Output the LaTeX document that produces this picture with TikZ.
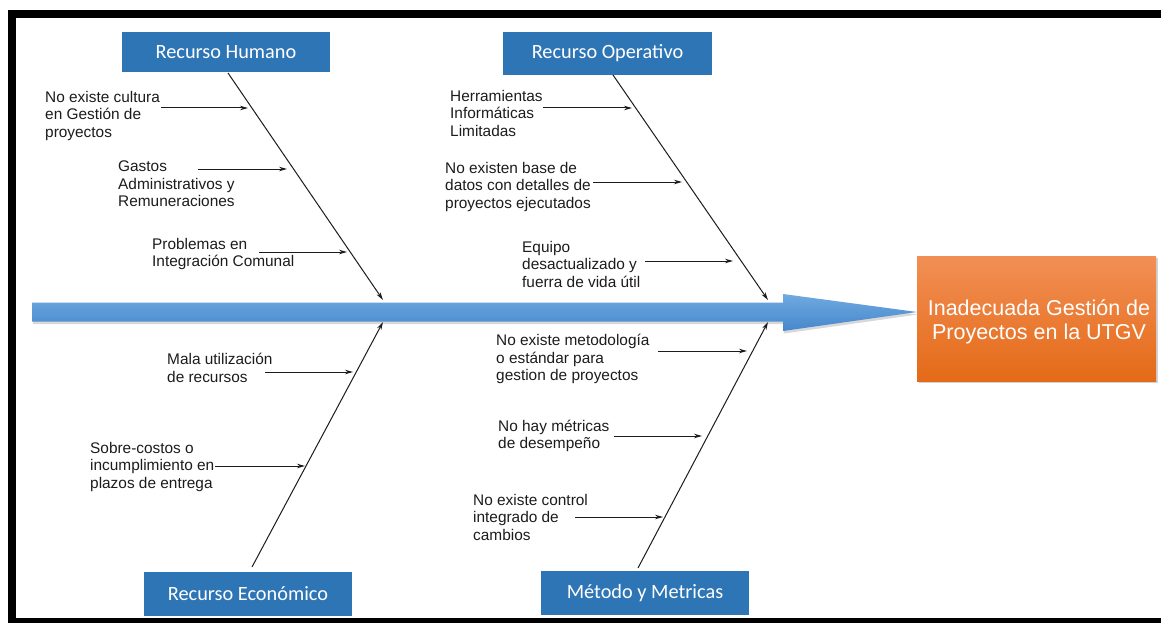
\documentclass[tikz,border=0pt]{standalone}
\usepackage{fontspec}
\setmainfont{Liberation Sans}
\newfontfamily\calibri{Carlito}
\usetikzlibrary{arrows.meta,shadows,calc}
\definecolor{boxblue}{HTML}{2E75B6}
\definecolor{arrowtop}{HTML}{6FAAE0}
\definecolor{arrowbot}{HTML}{4687CC}
\definecolor{orangetop}{HTML}{F28F55}
\definecolor{orangebot}{HTML}{E46A17}
\definecolor{txt}{HTML}{1C1C1C}
\tikzset{
  catbox/.style={fill=boxblue, text=white, font=\calibri\fontsize{20.3}{22}\selectfont, inner sep=0pt, minimum width=208pt},
  cause/.style={anchor=west, align=left, inner sep=0pt, text=txt, font=\fontsize{15.4}{17.5}\selectfont},
  spine/.style={draw=txt, line width=1pt, -{Stealth[length=8pt,width=4.5pt]}},
  sub/.style={draw=txt, line width=1pt, -{Stealth[length=8pt,width=4.5pt]}},
  effect/.style={top color=orangetop, bottom color=orangebot, draw=none, text=white, align=center,
     font=\fontsize{21.5}{23.5}\selectfont, minimum width=239pt, minimum height=125pt, inner sep=0pt,
     drop shadow={opacity=0.35, shadow xshift=2pt, shadow yshift=-2pt}},
}
\begin{document}
\begin{tikzpicture}[x=1pt,y=-1pt]
\useasboundingbox (0,0) rectangle (1161,623);
\fill[white] (0,0) rectangle (1161,623);
% frame
\fill[black] (8,10) rectangle (1161,18);
\fill[black] (8,10) rectangle (16,623);
\fill[black] (8,618) rectangle (1161,623);

% main arrow
\coordinate (tail) at (32,312);
\coordinate (tip) at (917,312);
\shade[top color=arrowtop, bottom color=arrowbot, drop shadow={opacity=0.3, shadow xshift=1pt, shadow yshift=-2.5pt}]
  ($(tail)+(0,-9.5)$) -- (783,302.5) -- (783,294) -- (tip) -- (783,331) -- (783,321.5) -- ($(tail)+(0,9.5)$) -- cycle;

% effect
\node[effect] (E) at (1036.5,318.5) {};
\node[align=center, text=white, inner sep=0pt, font=\fontsize{21.5}{23.5}\selectfont] (Et) at (1039,322) {Inadecuada Gestión de\\Proyectos en la UTGV};

% category boxes
\node[catbox, minimum height=40pt] (RH) at (226,52) {Recurso Humano};
\node[catbox, minimum height=43pt, minimum width=209pt] (RO) at (607.5,53.5) {Recurso Operativo};
\node[catbox, minimum height=44pt] (RE) at (248,594) {Recurso Económico};
\node[catbox, minimum height=44pt] (MM) at (645,593) {Método y Metricas};

% spines
\coordinate (rh0) at (228,73);  \coordinate (rh1) at (383,300);
\coordinate (ro0) at (613,75);  \coordinate (ro1) at (768,300);
\coordinate (re0) at (252,567); \coordinate (re1) at (383,322);
\coordinate (mm0) at (638,568); \coordinate (mm1) at (768,322);
\draw[spine] (rh0) -- (rh1);
\draw[spine] (ro0) -- (ro1);
\draw[spine] (re0) -- (re1);
\draw[spine] (mm0) -- (mm1);

% causes - Recurso Humano
\node[cause] (c1) at (45,116) {No existe cultura\\en Gestión de\\proyectos};
\node[cause] (c2) at (118,184) {Gastos\\Administrativos y\\Remuneraciones};
\node[cause] (c3) at (152,254) {Problemas en\\Integración Comunal};
\coordinate (a1) at (161,108); \coordinate (b1) at (248,108);
\coordinate (a2) at (198,169); \coordinate (b2) at (287,169);
\coordinate (a3) at (259,252); \coordinate (b3) at (347,252);
\draw[sub] (a1) -- (b1);
\draw[sub] (a2) -- (b2);
\draw[sub] (a3) -- (b3);

% causes - Recurso Económico
\node[cause] (c4) at (167,368) {Mala utilización\\de recursos};
\node[cause] (c5) at (90,467) {Sobre-costos o\\incumplimiento en\\plazos de entrega};
\coordinate (a4) at (265,372); \coordinate (b4) at (353,372);
\coordinate (a5) at (215,466); \coordinate (b5) at (305,466);
\draw[sub] (a4) -- (b4);
\draw[sub] (a5) -- (b5);

% causes - Recurso Operativo
\node[cause] (c6) at (450,113) {Herramientas\\Informáticas\\Limitadas};
\node[cause] (c7) at (445,187) {No existen base de\\datos con detalles de\\proyectos ejecutados};
\node[cause] (c8) at (522,264) {Equipo\\desactualizado y\\fuerra de vida útil};
\coordinate (a6) at (543,108); \coordinate (b6) at (632,108);
\coordinate (a7) at (593,182); \coordinate (b7) at (682,182);
\coordinate (a8) at (645,261); \coordinate (b8) at (733,261);
\draw[sub] (a6) -- (b6);
\draw[sub] (a7) -- (b7);
\draw[sub] (a8) -- (b8);

% causes - Método y Metricas
\node[cause] (c9) at (496,359) {No existe metodología\\o estándar para\\gestion de proyectos};
\node[cause] (c10) at (498,436) {No hay métricas\\de desempeño};
\node[cause] (c11) at (473,517) {No existe control\\integrado de\\cambios};
\coordinate (a9) at (658,351); \coordinate (b9) at (747,351);
\coordinate (a10) at (614,436); \coordinate (b10) at (702,436);
\coordinate (a11) at (575,517); \coordinate (b11) at (663,517);
\draw[sub] (a9) -- (b9);
\draw[sub] (a10) -- (b10);
\draw[sub] (a11) -- (b11);
\end{tikzpicture}
\end{document}
